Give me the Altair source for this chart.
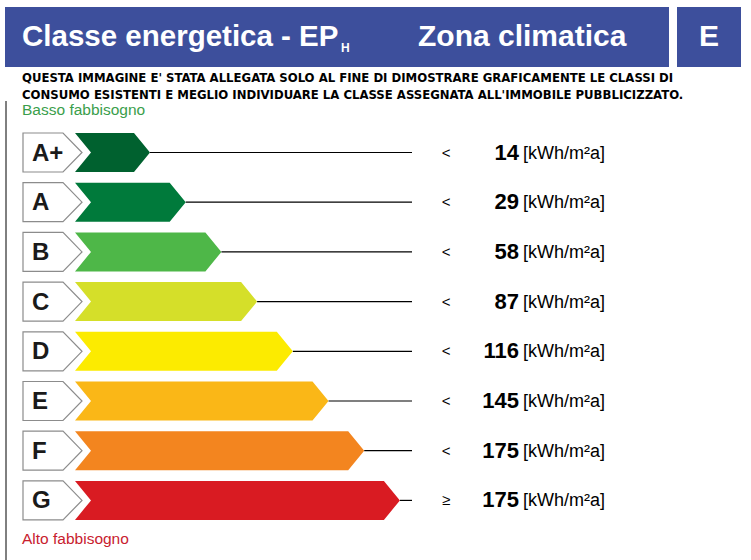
import altair as alt
import pandas as pd

# ---------------- data ----------------
classes = ["A+", "A", "B", "C", "D", "E", "F", "G"]
limits = [14, 29, 58, 87, 116, 145, 175, 175]
signs = ["<", "<", "<", "<", "<", "<", "<", "≥"]
levels = [0, 1, 2, 3, 4, 5, 6, 7]          # bar length rank of each class
colors = ["#00612F", "#007A3B", "#4EB748", "#D5DF29", "#FCEB00",
          "#FAB717", "#F3851F", "#D91B22"]
unit = "[kWh/m²a]"
title_main = "Classe energetica - EP"
title_sub = "H"
title_zone = "Zona climatica"
zone = "E"
disclaimer = ["QUESTA IMMAGINE E' STATA ALLEGATA SOLO AL FINE DI DIMOSTRARE GRAFICAMENTE LE CLASSI DI",
              "CONSUMO ESISTENTI E MEGLIO INDIVIDUARE LA CLASSE ASSEGNATA ALL'IMMOBILE PUBBLICIZZATO."]
low_label = "Basso fabbisogno"
high_label = "Alto fabbisogno"

# ---------------- layout (scale units) ----------------
W, H = 751, 560
STEP_PX = 35.7     # pixels per level
TIP0_PX = 150      # tip of the first bar
ROW_PX = 49.7
ROW0_PX = 152.5
x_dom = [-TIP0_PX / STEP_PX, (W - TIP0_PX) / STEP_PX]
y_dom = [-ROW0_PX / ROW_PX, (H - ROW0_PX) / ROW_PX]

half = 19.5 / ROW_PX
arrow = 16 / STEP_PX
bar_start = (75 - TIP0_PX) / STEP_PX
notch = 16 / STEP_PX
box_left = (23 - TIP0_PX) / STEP_PX
box_rect = (63 - TIP0_PX) / STEP_PX
box_tip = (82 - TIP0_PX) / STEP_PX
rule_end = (412 - TIP0_PX) / STEP_PX

rows = pd.DataFrame({"i": list(range(len(classes))), "cls": classes, "limit": limits,
                     "sign": signs, "level": levels, "rule_end": rule_end})

bar_pts = []
box_pts = []
for i, (c, lv) in enumerate(zip(classes, levels)):
    for dy, xl, xr, bxr in [(-half, bar_start, lv - arrow, box_rect),
                            (0, bar_start + notch, lv, box_tip),
                            (half, bar_start, lv - arrow, box_rect)]:
        bar_pts.append({"cls": c, "y": i + dy, "x": xl, "x2": xr})
        box_pts.append({"cls": c, "y": i + dy, "x": box_left, "x2": bxr})
bars_df = pd.DataFrame(bar_pts)
boxes_df = pd.DataFrame(box_pts)

xs = alt.Scale(domain=x_dom, nice=False, zero=False)
ys = alt.Scale(domain=y_dom, nice=False, zero=False, reverse=True)

FONT = "Liberation Sans, Arial, sans-serif"
NARROW = "Liberation Sans Narrow, DejaVu Sans Condensed, Arial Narrow, sans-serif"
BLUE = "#3D4F9C"

one = pd.DataFrame({"a": [0]})

hdr1 = alt.Chart(one).mark_rect(color=BLUE).encode(
    x=alt.value(5), x2=alt.value(669), y=alt.value(7), y2=alt.value(67))
hdr2 = alt.Chart(one).mark_rect(color=BLUE).encode(
    x=alt.value(677), x2=alt.value(741), y=alt.value(7), y2=alt.value(67))

t_main = alt.Chart(one).mark_text(text=title_main, font=FONT, fontSize=29.5, fontWeight="bold",
                                  color="white", align="left", baseline="alphabetic").encode(
    x=alt.value(22), y=alt.value(46))
t_sub = alt.Chart(one).mark_text(text=title_sub, font=FONT, fontSize=12, fontWeight="bold",
                                 color="white", align="left", baseline="alphabetic").encode(
    x=alt.value(341), y=alt.value(52))
t_zone = alt.Chart(one).mark_text(text=title_zone, font=FONT, fontSize=30, fontWeight="bold",
                                  color="white", align="left", baseline="alphabetic").encode(
    x=alt.value(418), y=alt.value(46))
t_E = alt.Chart(one).mark_text(text=zone, font=FONT, fontSize=30, fontWeight="bold",
                               color="white", align="center", baseline="alphabetic").encode(
    x=alt.value(709), y=alt.value(46))

disc1 = alt.Chart(one).mark_text(text=disclaimer[0], font=NARROW, fontSize=13, fontWeight="bold",
                                 color="black", align="left", baseline="middle").encode(
    x=alt.value(22), y=alt.value(78))
disc2 = alt.Chart(one).mark_text(text=disclaimer[1], font=NARROW, fontSize=13, fontWeight="bold",
                                 color="black", align="left", baseline="middle").encode(
    x=alt.value(22), y=alt.value(95))
low_t = alt.Chart(one).mark_text(text=low_label, font=FONT, fontSize=15.5, color="#3A9E4B",
                                 align="left", baseline="middle").encode(
    x=alt.value(22), y=alt.value(110))
high_t = alt.Chart(one).mark_text(text=high_label, font=FONT, fontSize=15.5, color="#C8202E",
                                  align="left", baseline="middle").encode(
    x=alt.value(22), y=alt.value(539))
vline = alt.Chart(one).mark_rule(color="black", strokeWidth=1).encode(
    x=alt.value(6), y=alt.value(101), y2=alt.value(560))

bars = alt.Chart(bars_df).mark_area(orient="horizontal", interpolate="linear").encode(
    y=alt.Y("y:Q", scale=ys, axis=None),
    x=alt.X("x:Q", scale=xs, axis=None, stack=None),
    x2="x2:Q",
    color=alt.Color("cls:N", scale=alt.Scale(domain=classes, range=colors), legend=None),
    detail="cls:N",
)
boxes = alt.Chart(boxes_df).mark_area(orient="horizontal", interpolate="linear", fill="white",
                                       stroke="#8C8C8C", strokeWidth=1.2).encode(
    y=alt.Y("y:Q", scale=ys, axis=None),
    x=alt.X("x:Q", scale=xs, axis=None, stack=None),
    x2="x2:Q",
    detail="cls:N",
)
rules = alt.Chart(rows).mark_rule(color="black", strokeWidth=1.2).encode(
    y=alt.Y("i:Q", scale=ys, axis=None),
    x=alt.X("level:Q", scale=xs, axis=None),
    x2="rule_end:Q",
)
letters = alt.Chart(rows).mark_text(font=FONT, fontSize=24, fontWeight="bold", color="#1a1a1a",
                                    align="left", baseline="middle", dy=1).encode(
    y=alt.Y("i:Q", scale=ys, axis=None), x=alt.value(32), text="cls:N")
sign_t = alt.Chart(rows).mark_text(font=FONT, fontSize=15, color="black",
                                   align="center", baseline="middle").encode(
    y=alt.Y("i:Q", scale=ys, axis=None), x=alt.value(446), text="sign:N")
vals = alt.Chart(rows).mark_text(font=FONT, fontSize=22, fontWeight="bold", color="black",
                                 align="right", baseline="middle").encode(
    y=alt.Y("i:Q", scale=ys, axis=None), x=alt.value(519), text="limit:Q")
units = alt.Chart(rows).mark_text(font=FONT, fontSize=18, color="black", text=unit,
                                  align="left", baseline="middle", dy=1).encode(
    y=alt.Y("i:Q", scale=ys, axis=None), x=alt.value(523))

chart = alt.layer(
    hdr1, hdr2, t_main, t_sub, t_zone, t_E, disc1, disc2, low_t, high_t, vline,
    rules, bars, boxes, letters, sign_t, vals, units
).properties(
    width=W, height=H, padding=0, autosize=alt.AutoSizeParams(type="none"),
    background="white"
).configure_view(stroke=None)

chart.save("out.html", embed_options={"renderer": "svg", "actions": False})
